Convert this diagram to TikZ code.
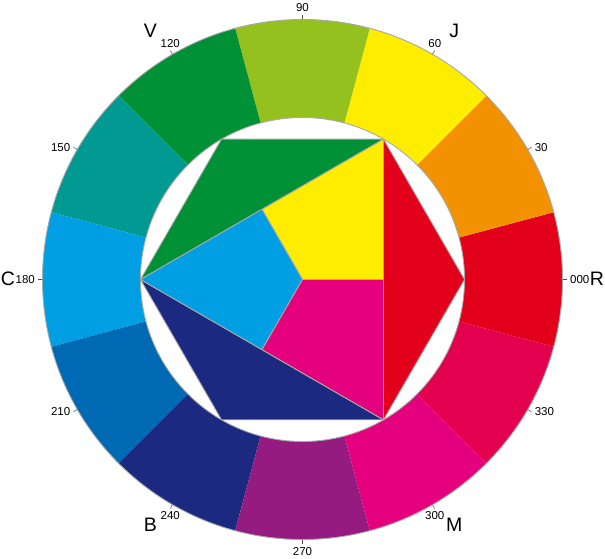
\documentclass[tikz,border=0pt]{standalone}
\usepackage{fontspec}
\setmainfont{Liberation Sans}
\usetikzlibrary{calc}
\definecolor{ring0}{HTML}{E2001A}
\definecolor{ring30}{HTML}{F39200}
\definecolor{ring60}{HTML}{FFED00}
\definecolor{ring90}{HTML}{95C11F}
\definecolor{ring120}{HTML}{009036}
\definecolor{ring150}{HTML}{009A93}
\definecolor{ring180}{HTML}{009FE3}
\definecolor{ring210}{HTML}{0069B4}
\definecolor{ring240}{HTML}{1B2A80}
\definecolor{ring270}{HTML}{951B81}
\definecolor{ring300}{HTML}{E5007D}
\definecolor{ring330}{HTML}{E3004F}
\definecolor{rim}{HTML}{A8A8A8}
\tikzset{rimline/.style={draw=rim, line width=0.9pt},
  piece/.style={rimline, line join=round},
  tick/.style={draw=black!70, line width=0.5pt},
  deg/.style={inner sep=3pt, font=\fontsize{11.5}{13}\selectfont},
  tag/.style={inner sep=0pt, font=\fontsize{19.5}{22}\selectfont}}

\begin{document}
\begin{tikzpicture}[x=1pt,y=1pt]
        \useasboundingbox (-302.5,-279.5) rectangle (302.5,279.5);
        \foreach \a in {0,30,...,330}
            \fill[ring\a] (0,0) -- (\a-15:260) arc[start angle=\a-15, end angle=\a+15, radius=260] -- cycle;
        \draw[rimline] (0,0) circle[radius=260];
        \draw[rimline, fill=white] (0,0) circle[radius=162];
        %
        \foreach \a in {0,60,...,300}
            \coordinate (p\a) at (\a:162);
        \coordinate (o) at (0,0);
        \coordinate (m1) at ($(p60)!0.5!(p180)$);
        \coordinate (m2) at ($(p180)!0.5!(p300)$);
        \coordinate (m3) at ($(p300)!0.5!(p60)$);
        \draw[piece, fill=ring0] (p60) -- (p0) -- (p300) -- cycle;
        \draw[piece, fill=ring120] (p60) -- (p120) -- (p180) -- cycle;
        \draw[piece, fill=ring240] (p180) -- (p240) -- (p300) -- cycle;
        \draw[piece, fill=ring60] (p60) -- (m1) -- (o) -- (m3) -- cycle;
        \draw[piece, fill=ring180] (p180) -- (m2) -- (o) -- (m1) -- cycle;
        \draw[piece, fill=ring300] (p300) -- (m3) -- (o) -- (m2) -- cycle;
        %
        \foreach \a/\t/\anc in {0/000/west, 30/30/west, 60/60/south, 90/90/south,
                120/120/south, 150/150/east, 180/180/east, 210/210/east,
                240/240/north, 270/270/north, 300/300/north, 330/330/west}{
            \draw[tick] (\a:260) -- (\a:264.5);
            \node[deg, anchor=\anc] (d\a) at (\a:264.5) {\t};
        }
        \node[tag] (R) at (294.5,0.7) {R};
        \node[tag] (J) at (151.7,248.8) {J};
        \node[tag] (V) at (-152.2,248.8) {V};
        \node[tag] (C) at (-294.7,1) {C};
        \node[tag] (B) at (-152,-245.2) {B};
        \node[tag] (M) at (151.7,-245.2) {M};
    \end{tikzpicture}
\end{document}
